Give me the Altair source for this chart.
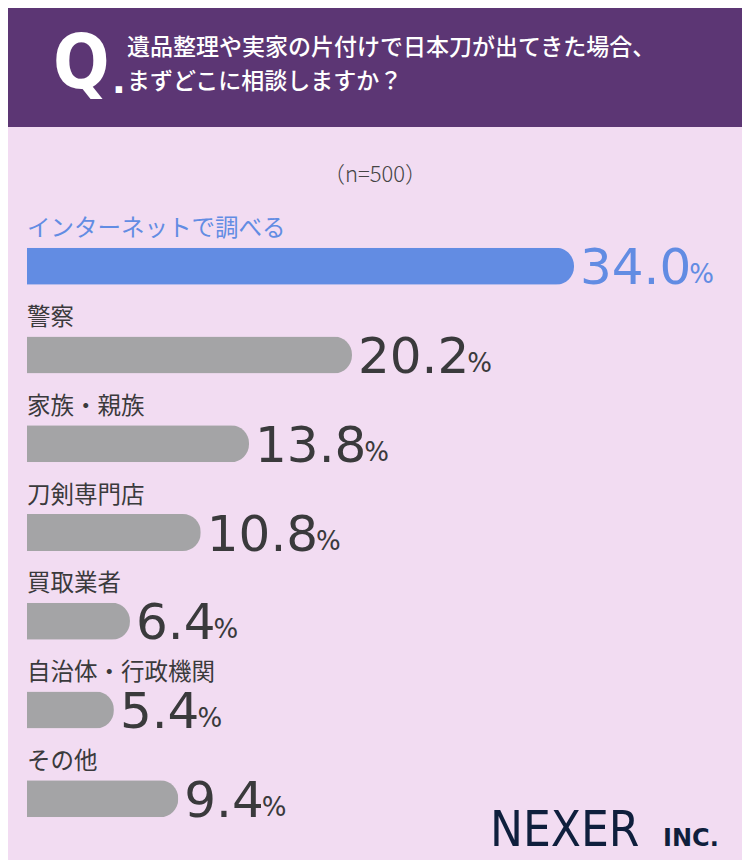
import altair as alt
import pandas as pd

categories = ["インターネットで調べる", "警察", "家族・親族", "刀剣専門店", "買取業者", "自治体・行政機関", "その他"]
values = [34.0, 20.2, 13.8, 10.8, 6.4, 5.4, 9.4]
title_lines = ["遺品整理や実家の片付けで日本刀が出てきた場合、", "まずどこに相談しますか？"]
sample_note = "（n=500）"

W, H = 734, 852
BG = "#f2dcf2"
PURPLE = "#5c3674"
BLUE = "#628ce3"
GRAY = "#a4a4a6"
DARK = "#3a3a3c"
NUM_SIZE = 50
JP = "Noto Sans CJK JP"
X_DOMAIN = [0, 34]
X_RANGE = [19, 566]
PX_PER_UNIT = (X_RANGE[1] - X_RANGE[0]) / (X_DOMAIN[1] - X_DOMAIN[0])


def num_width(s, size):
    w = 0.0
    for ch in s:
        w += 0.318 * size if ch == "." else 0.636 * size
    return w


df = pd.DataFrame({"cat": categories, "val": values})
df["label"] = [f"{v:.1f}" for v in values]
# position of the small "%" sign: right after the number text (in data units)
df["pct_x"] = [v + (num_width(s, NUM_SIZE) - 2) / PX_PER_UNIT for v, s in zip(values, df["label"])]

top = categories[0]
is_top = alt.datum.cat == top

y_enc = alt.Y("cat:N", sort=categories, axis=None,
              scale=alt.Scale(range=[214, 835], paddingInner=0, paddingOuter=0))
x_scale = alt.Scale(domain=X_DOMAIN, range=X_RANGE)
x_enc = alt.X("val:Q", axis=None, scale=x_scale)

base = alt.Chart(df)

bars = base.mark_bar(size=37, cornerRadiusEnd=18).encode(
    x=x_enc, y=y_enc,
    color=alt.condition(is_top, alt.value(BLUE), alt.value(GRAY)),
)

cat_labels = base.mark_text(align="left", baseline="middle", dy=-37, font=JP,
                            fontSize=23.5).encode(
    x=alt.value(19), y=y_enc, text="cat:N",
    color=alt.condition(is_top, alt.value(BLUE), alt.value(DARK)),
)

nums = base.mark_text(align="left", baseline="alphabetic", dx=6, dy=18,
                      font="DejaVu Sans", fontSize=NUM_SIZE).encode(
    x=x_enc, y=y_enc, text="label:N",
    color=alt.condition(is_top, alt.value(BLUE), alt.value(DARK)),
)

pcts = base.mark_text(align="left", baseline="alphabetic", dx=6, dy=17, text="%",
                      font="DejaVu Sans", fontSize=26).encode(
    x=alt.X("pct_x:Q", axis=None, scale=x_scale), y=y_enc,
    color=alt.condition(is_top, alt.value(BLUE), alt.value(DARK)),
)

one = alt.Chart(pd.DataFrame({"a": [0]}))

header = one.mark_rect(color=PURPLE).encode(
    x=alt.value(0), x2=alt.value(W), y=alt.value(0), y2=alt.value(119))

q_mark = one.mark_text(text="Q", align="left", baseline="alphabetic", color="white",
                       font="DejaVu Sans Condensed", fontWeight="bold", fontSize=74).encode(
    x=alt.value(45), y=alt.value(80))
q_dot = one.mark_text(text=".", align="left", baseline="alphabetic", color="white",
                      font="DejaVu Sans", fontWeight="bold", fontSize=36).encode(
    x=alt.value(104), y=alt.value(85))

t1 = one.mark_text(text=title_lines[0], align="left", baseline="middle", color="white",
                   font=JP, fontWeight=500, fontSize=23).encode(
    x=alt.value(119), y=alt.value(40))
t2 = one.mark_text(text=title_lines[1], align="left", baseline="middle", color="white",
                   font=JP, fontWeight=500, fontSize=23).encode(
    x=alt.value(119), y=alt.value(74))

note = one.mark_text(text=sample_note, align="center", baseline="middle", color="#444444",
                     font=JP, fontWeight=300, fontSize=22).encode(
    x=alt.value(367), y=alt.value(167))

logo = one.mark_text(text="NEXER", align="left", baseline="alphabetic", color="#0f1f3d",
                     font="DejaVu Sans Condensed", fontSize=49).encode(
    x=alt.value(482), y=alt.value(838))
logo_inc = one.mark_text(text="INC.", align="left", baseline="alphabetic", color="#0f1f3d",
                         font="DejaVu Sans", fontWeight="bold", fontSize=24).encode(
    x=alt.value(655), y=alt.value(838))

chart = alt.layer(header, q_mark, q_dot, t1, t2, note, bars, cat_labels, nums, pcts,
                  logo, logo_inc).properties(
    width=W, height=H, autosize=alt.AutoSizeParams(type="none"), padding=0,
    background=BG,
).configure_view(stroke=None)

chart.save("out.html", embed_options={"renderer": "svg", "actions": False})
